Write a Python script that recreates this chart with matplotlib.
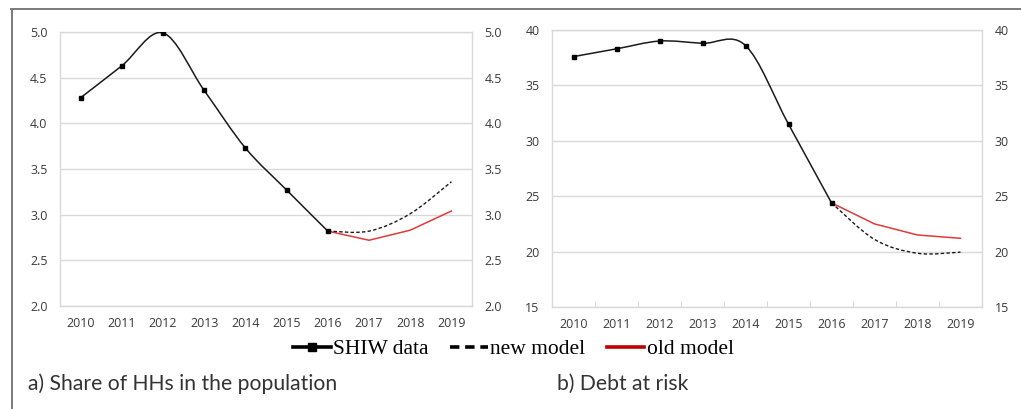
import numpy as np
import matplotlib
matplotlib.use("Agg")
import matplotlib.pyplot as plt
from matplotlib.path import Path
from matplotlib.patches import PathPatch
from matplotlib.lines import Line2D

# ---------------- data ----------------
years = ["2010", "2011", "2012", "2013", "2014", "2015", "2016", "2017", "2018", "2019"]

# a) Share of HHs in the population
share_shiw = [4.28, 4.63, 4.99, 4.36, 3.73, 3.27, 2.82]          # 2010-2016
share_new = [2.82, 2.82, 3.01, 3.36]                              # 2016-2019
share_old = [2.82, 2.72, 2.83, 3.04]                              # 2016-2019

# b) Debt at risk
debt_shiw = [37.6, 38.3, 39.0, 38.8, 38.6, 31.5, 24.4]            # 2010-2016
debt_new = [24.4, 21.1, 19.85, 19.95]                             # 2016-2019
debt_old = [24.4, 22.5, 21.5, 21.2]                               # 2016-2019

share_ticks = [2.0, 2.5, 3.0, 3.5, 4.0, 4.5, 5.0]
debt_ticks = [15, 20, 25, 30, 35, 40]

legend_labels = ["SHIW data", "new model", "old model"]
captions = ["a) Share of HHs in the population", "b) Debt at risk"]

# ---------------- helpers ----------------
def smooth_path(xs, ys):
    """Excel-style smoothed line (Catmull-Rom Bezier through the data points)."""
    pts = np.column_stack([xs, ys]).astype(float)
    n = len(pts)
    verts = [pts[0]]
    codes = [Path.MOVETO]
    for i in range(n - 1):
        p0 = pts[i - 1] if i > 0 else pts[i]
        p1 = pts[i]
        p2 = pts[i + 1]
        p3 = pts[i + 2] if i + 2 < n else pts[i + 1]
        c1 = p1 + (p2 - p0) / 6.0
        c2 = p2 - (p3 - p1) / 6.0
        verts += [c1, c2, p2]
        codes += [Path.CURVE4] * 3
    return Path(verts, codes)


TICK_FONT = dict(family="Open Sans", size=8.9)
TICK_COLOR = "#3a3a3a"
GRID_COLOR = "#d9d9d9"
RED = "#e03a3a"

fig = plt.figure(figsize=(10.21, 4.09), dpi=100)
fig.patch.set_facecolor("white")

ax1 = fig.add_axes([60 / 1021, 1 - 306 / 409, 412 / 1021, 274 / 409])
ax2 = fig.add_axes([552 / 1021, 1 - 307 / 409, 430 / 1021, 277 / 409])


def setup(ax, ticks, fmt, minor_ticks):
    ax.set_xlim(-0.5, len(years) - 0.5)
    ax.set_ylim(ticks[0], ticks[-1])
    ax.set_yticks(ticks)
    ax.set_yticklabels([fmt.format(t) for t in ticks], **TICK_FONT)
    ax.set_xticks(range(len(years)))
    ax.set_xticklabels(years, **TICK_FONT)
    ax.tick_params(axis="y", which="both", length=0, pad=9,
                   labelleft=True, labelright=True, colors=TICK_COLOR)
    ax.tick_params(axis="x", which="major", length=0, pad=8, colors=TICK_COLOR)
    if minor_ticks:
        ax.set_xticks(np.arange(0.5, len(years) - 1, 1), minor=True)
        ax.tick_params(axis="x", which="minor", direction="in", length=4.5,
                       width=0.8, color=GRID_COLOR)
    ax.grid(axis="y", color=GRID_COLOR, linewidth=1.0)
    ax.set_axisbelow(True)
    for s in ax.spines.values():
        s.set_color(GRID_COLOR)
        s.set_linewidth(1.0)


setup(ax1, share_ticks, "{:.1f}", False)
setup(ax2, debt_ticks, "{:.0f}", True)

x_shiw = np.arange(len(share_shiw))
x_model = np.arange(6, 6 + len(share_new))

for ax, shiw, new, old in [(ax1, share_shiw, share_new, share_old),
                           (ax2, debt_shiw, debt_new, debt_old)]:
    ax.add_patch(PathPatch(smooth_path(x_shiw, shiw), facecolor="none",
                           edgecolor="#1a1a1a", linewidth=1.1, zorder=3))
    ax.plot(x_shiw, shiw, linestyle="none", marker="s", markersize=3.2,
            color="black", zorder=4)
    ax.plot(x_model, old, color=RED, linewidth=1.1, zorder=3)
    ax.add_patch(PathPatch(smooth_path(x_model, new), facecolor="none",
                           edgecolor="#1a1a1a", linewidth=1.0,
                           linestyle=(0, (2.5, 1.6)), zorder=3))

# legend
handles = [
    Line2D([], [], color="black", linewidth=2.6, marker="s", markersize=6),
    Line2D([], [], color="black", linewidth=2.6, linestyle=(0, (2.6, 1.6))),
    Line2D([], [], color="#c00000", linewidth=2.6),
]
fig.legend(handles, legend_labels, loc="center", bbox_to_anchor=(0.503, 1 - 349 / 409),
           ncol=3, frameon=False, handlelength=1.75, handletextpad=0.1,
           columnspacing=1.0, prop=dict(family="Liberation Serif", size=15.5))

# captions
fig.text(28 / 1021, 1 - 384 / 409, captions[0], fontsize=15.2, family="Lato",
         color="#333333", va="center", ha="left")
fig.text(557 / 1021, 1 - 384 / 409, captions[1], fontsize=15.2, family="Lato",
         color="#333333", va="center", ha="left")

# outer frame (top and left edges)
frame_color = "#7a7a7a"
fig.add_artist(Line2D([11 / 1021, 1.0], [1 - 9 / 409, 1 - 9 / 409],
                      transform=fig.transFigure, color=frame_color, linewidth=1.4))
fig.add_artist(Line2D([12 / 1021, 12 / 1021], [0.0, 1 - 9 / 409],
                      transform=fig.transFigure, color=frame_color, linewidth=1.4))

fig.savefig("out.png", dpi=100, facecolor="white")
